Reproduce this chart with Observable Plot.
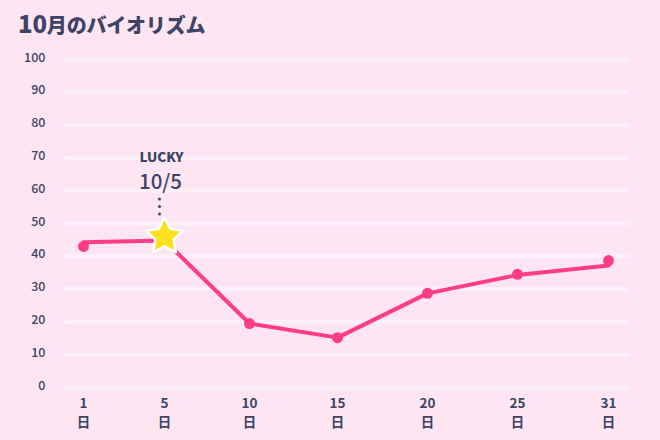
<!DOCTYPE html>
<html><head><meta charset="utf-8">
<script src="https://cdn.jsdelivr.net/npm/d3@7"></script>
<script src="https://cdn.jsdelivr.net/npm/@observablehq/plot@0.6"></script>
<style>
html,body{margin:0;padding:0;background:#fde5f2;}
#wrap{width:660px;height:440px;overflow:hidden;font-family:"Noto Sans CJK JP","Noto Sans",sans-serif;color:#3d4466;background:#fde5f2;}
#title{height:44px;box-sizing:border-box;padding:7px 0 0 18px;font-weight:900;font-size:20px;line-height:32px;letter-spacing:-0.2px;}
#title .num{font-size:24px;}
</style></head>
<body><div id="wrap"><div id="title"><span class="num">10</span>月のバイオリズム</div><div id="chart"></div></div>
<script>
const days = [1, 5, 10, 15, 20, 25, 31];
const dotValues = [43, 46, 19.5, 15.2, 28.7, 34.5, 38.7];
const lineValues = [44.3, 44.8, 19.5, 15.2, 28.7, 34.3, 37.2];
const yTicks = [0,10,20,30,40,50,60,70,80,90,100];
const luckyDay = 5;
const luckyLabel = "LUCKY";
const luckyDate = "10/5";
const dayUnit = "日";

const data = days.map((d,i)=>({day:d, dot:dotValues[i], line:lineValues[i]}));
const lucky = data.filter(d=>d.day===luckyDay);
const others = data.filter(d=>d.day!==luckyDay);
const ink = "#3d4466";
const pink = "#ff3d86";
const font = '"Noto Sans CJK JP","Noto Sans",sans-serif';

// a chunkier five-pointed star symbol
const fatStar = {
  draw(context, size) {
    const R = Math.sqrt(size * 0.9), r = R * 0.5;
    for (let i = 0; i < 10; i++) {
      const a = -Math.PI / 2 + i * Math.PI / 5;
      const rad = i % 2 ? r : R;
      const px = rad * Math.cos(a), py = rad * Math.sin(a);
      if (i) context.lineTo(px, py); else context.moveTo(px, py);
    }
    context.closePath();
  }
};

const chart = Plot.plot({
  width:660, height:396,
  marginTop:15, marginBottom:53, marginLeft:65, marginRight:32,
  style:{background:"transparent", fontFamily:font, color:ink, overflow:"visible"},
  // piecewise x scale: the reference spaces the labelled days nearly evenly
  x:{type:"linear", domain:days, range:[83,164,249,337,427,517,608]},
  y:{domain:[0,100]},
  marks:[
    Plot.ruleY(yTicks,{stroke:"#ffffff", strokeOpacity:0.42, strokeWidth:4, strokeLinecap:"round"}),
    Plot.axisY(yTicks,{tickSize:0, tickPadding:20, fontSize:12.5, fontWeight:500, dy:-2, label:null, fill:ink}),
    Plot.axisX(days,{tickSize:0, tickPadding:8, fontSize:13.5, fontWeight:700, lineHeight:1.35, label:null, fill:ink, tickFormat:d=>d+"\n"+dayUnit}),
    Plot.line(data,{x:"day", y:"line", stroke:pink, strokeWidth:4, strokeLinejoin:"round"}),
    Plot.dot(others,{x:"day", y:"dot", r:5.5, fill:pink}),
    Plot.link(lucky,{x1:"day", x2:"day", y1:()=>57.5, y2:()=>52.5, dx:-5, stroke:ink, strokeWidth:3, strokeDasharray:"0,7.5", strokeLinecap:"round"}),
    Plot.dot(lucky,{x:"day", y:"dot", symbol:fatStar, r:11.5, fill:"#ffe01e", stroke:"#ffffff", strokeWidth:2.5, strokeLinejoin:"round"}),
    Plot.text(lucky,{x:"day", y:"dot", text:()=>luckyLabel, dy:-79, dx:-3, fontSize:13.5, fontWeight:900, fill:ink, letterSpacing:"1.2px"}),
    Plot.text(lucky,{x:"day", y:"dot", text:()=>luckyDate, dy:-54, dx:-4, fontSize:20.5, fontWeight:500, fill:ink})
  ]
});
document.getElementById("chart").appendChild(chart);
</script></body></html>
